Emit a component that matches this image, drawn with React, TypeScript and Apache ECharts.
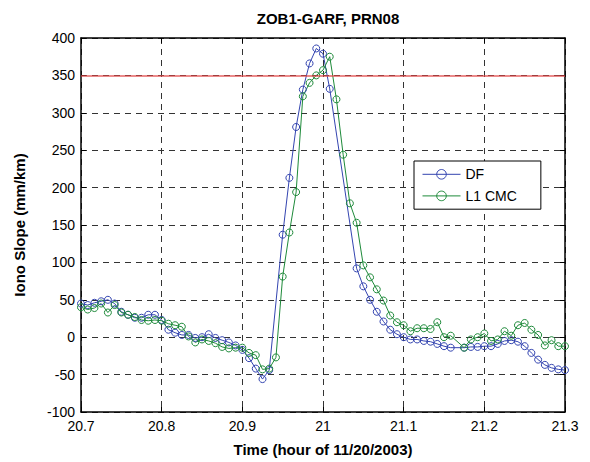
import React, { useEffect, useRef } from "react";
import * as echarts from "echarts";

// Sampling grid: one epoch every 30 s starting at 20.7 h
const START_HOUR = 20.7;
const STEP_HOUR = 30 / 3600;

const dfValues: (number | null)[] = [
  45, 43, 46, 48, 50, 45, 34, 30, 26, 26,
  30, 30, 23, 10, 6, 3, 3, -1, 0, 4,
  -1, -4, -7, -11, -17, -28, -42, -56, -44, null,
  137, 213, 281, 331, 366, 386, 379, 332, null, null,
  null, 92, 68, 50, 34, 21, 10, 4, 0, -3,
  -3, -5, -6, -9, -12, -14, null, -14, -13, -13,
  -12, -12, -9, -5, -4, -6, -12, -21, -30, -37,
  -41, -43, -44,
];

const cmcValues: (number | null)[] = [
  40, 37, 39, 45, 33, 43, 33, 30, 27, 23,
  22, 23, 22, 18, 16, 14, 1, -7, -3, -5,
  -8, -13, -15, -14, -14, -21, -24, -43, -42, -27,
  81, 140, 194, 322, 340, 350, 357, 375, 318, 244,
  179, 153, 96, 80, 64, 49, 29, 20, 16, 8,
  12, 12, 11, 20, 0, 2, null, -14, -3, 0,
  5, -5, -3, 8, 2, 16, 19, 10, 3, -11,
  -4, -12, -12,
];

const THRESHOLD = 350;
const X_TICKS = [20.7, 20.8, 20.9, 21.0, 21.1, 21.2, 21.3];
const Y_TICKS = [-100, -50, 0, 50, 100, 150, 200, 250, 300, 350, 400];

const FONT = "'Liberation Sans', Arial, Helvetica, sans-serif";

const times = dfValues.map((_, i) => START_HOUR + i * STEP_HOUR);
const toPairs = (vals: (number | null)[]) => vals.map((v, i) => [times[i], v]);

export default function App() {
  const ref = useRef<HTMLDivElement>(null);
  useEffect(() => {
    document.body.style.margin = "0";
    const chart = echarts.init(ref.current!, null, { renderer: "svg" });
    const axisCommon = {
      axisLine: { show: true, onZero: false, lineStyle: { color: "#000", width: 1.5 } },
      axisTick: { show: true, inside: true, length: 5, lineStyle: { color: "#000", width: 1 } },
    };
    const xMin = X_TICKS[0];
    const xMax = X_TICKS[X_TICKS.length - 1];
    const yMin = Y_TICKS[0];
    const yMax = Y_TICKS[Y_TICKS.length - 1];
    const fmtX = (v: number) => String(Number(v.toFixed(2)));
    chart.setOption({
      animation: false,
      backgroundColor: "#fff",
      title: {
        text: "ZOB1-GARF, PRN08",
        left: 323,
        top: 6,
        textAlign: "center",
        textStyle: { fontFamily: FONT, fontSize: 15, fontWeight: "bold", color: "#000" },
      },
      grid: { left: 81, right: 25, top: 38, bottom: 50 },
      legend: {
        orient: "vertical",
        left: 414,
        top: 161,
        padding: [6, 24, 6, 8],
        itemWidth: 38,
        itemHeight: 12,
        itemGap: 7,
        borderColor: "#000",
        borderWidth: 1,
        backgroundColor: "#fff",
        lineStyle: { width: 1 },
        itemStyle: { borderWidth: 1 },
        textStyle: { fontFamily: FONT, fontSize: 14, color: "#000" },
        data: ["DF", "L1 CMC"],
      },
      xAxis: [
        {
          type: "value",
          min: xMin,
          max: xMax,
          interval: 0.1,
          position: "bottom",
          ...axisCommon,
          axisLabel: { color: "#000", fontFamily: FONT, fontSize: 14, margin: 7, formatter: fmtX },
          splitLine: { show: true, lineStyle: { color: "#333", width: 1, type: [6, 5] } },
          name: "Time (hour of 11/20/2003)",
          nameLocation: "middle",
          nameGap: 30,
          nameTextStyle: { fontFamily: FONT, fontSize: 15, fontWeight: "bold", color: "#000" },
        },
        {
          type: "value",
          min: xMin,
          max: xMax,
          interval: 0.1,
          position: "top",
          ...axisCommon,
          axisLabel: { show: false },
          splitLine: { show: false },
        },
      ],
      yAxis: [
        {
          type: "value",
          min: yMin,
          max: yMax,
          interval: 50,
          position: "left",
          ...axisCommon,
          axisLabel: { color: "#000", fontFamily: FONT, fontSize: 14, margin: 6 },
          splitLine: { show: true, lineStyle: { color: "#333", width: 1, type: [6, 5] } },
          name: "Iono Slope (mm/km)",
          nameLocation: "middle",
          nameGap: 54,
          nameTextStyle: { fontFamily: FONT, fontSize: 15, fontWeight: "bold", color: "#000" },
        },
        {
          type: "value",
          min: yMin,
          max: yMax,
          interval: 50,
          position: "right",
          ...axisCommon,
          axisLabel: { show: false },
          splitLine: { show: false },
        },
      ],
      series: [
        {
          name: "DF",
          type: "line",
          data: toPairs(dfValues),
          connectNulls: true,
          symbol: "circle",
          symbolSize: 7,
          showAllSymbol: true,
          lineStyle: { color: "#3344b0", width: 1 },
          itemStyle: { color: "none", borderColor: "#3344b0", borderWidth: 1 },
          markLine: {
            silent: true,
            symbol: "none",
            label: { show: false },
            lineStyle: { color: "#e04848", width: 1.5, type: "solid", opacity: 0.85 },
            data: [{ yAxis: THRESHOLD }],
          },
        },
        {
          name: "L1 CMC",
          type: "line",
          data: toPairs(cmcValues),
          connectNulls: true,
          symbol: "circle",
          symbolSize: 7,
          showAllSymbol: true,
          lineStyle: { color: "#1e8a3a", width: 1 },
          itemStyle: { color: "none", borderColor: "#1e8a3a", borderWidth: 1 },
        },
      ],
    });
    return () => chart.dispose();
  }, []);
  return <div ref={ref} style={{ width: 590, height: 462 }} />;
}
